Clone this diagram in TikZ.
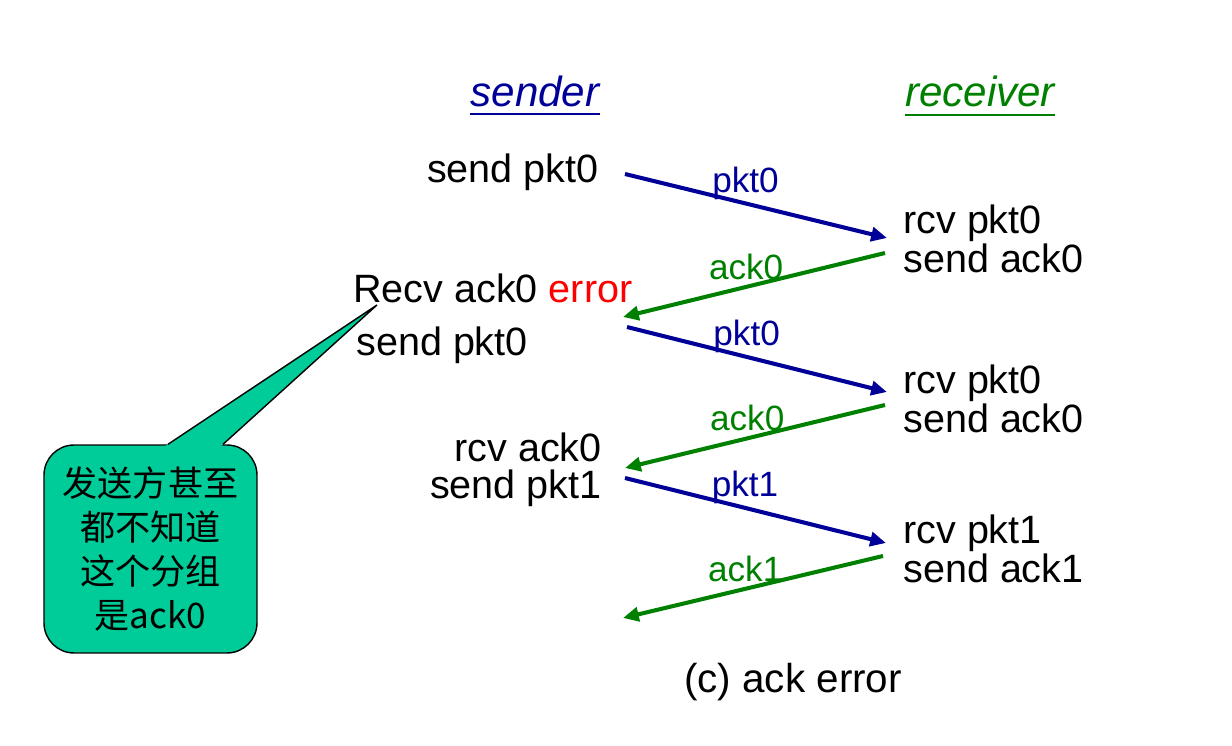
\documentclass[tikz,border=0pt]{standalone}
\usepackage{fontspec}
\setmainfont{Liberation Sans}
\newfontfamily\cjk{Noto Sans CJK SC}
\usetikzlibrary{arrows.meta, calc}
\definecolor{pktblue}{RGB}{0,0,153}
\definecolor{ackgreen}{RGB}{0,128,0}
\definecolor{notefill}{RGB}{0,204,153}

\begin{document}
\begin{tikzpicture}[
    x=0.02cm, y=-0.02cm,
    every node/.style={inner sep=0pt, font=\fontsize{22.5}{20.5}\selectfont},
    head/.style={font=\fontsize{24}{28}\selectfont\itshape},
    lbl/.style={font=\fontsize{20}{24}\selectfont},
    pkt/.style={-{Triangle[length=9pt, width=8pt]}, line width=2.3pt, pktblue},
    ack/.style={-{Triangle[length=9pt, width=8pt]}, line width=2.3pt, ackgreen},
    note/.style={draw, line width=0.8pt, fill=notefill, rounded corners=0.6cm,
        minimum width=4.26cm, minimum height=4.16cm, align=center,
        font=\cjk\fontsize{20}{25}\selectfont}
]
\useasboundingbox (0,0) rectangle (1232,746);

% column heads
\node[head, pktblue, anchor=base] (snd) at (535,107) {sender};
\node[head, ackgreen, anchor=base] (rcv) at (980,107) {receiver};
\draw[pktblue, line width=1.2pt] ($(snd.base west)+(0,7)$) -- ($(snd.base east)+(0,7)$);
\draw[ackgreen, line width=1.2pt] ($(rcv.base west)+(0,8)$) -- ($(rcv.base east)+(0,8)$);

% sender side
\node[anchor=base east] (tx1) at (599,183) {send pkt0};
\node[anchor=base west] (recv) at (353,303) {Recv ack0 \textcolor{red}{error}};
\node[anchor=base west] (tx2) at (356,356) {send pkt0};
\node[anchor=north east, align=right] (tx3) at (602,433) {rcv ack0\\send pkt1};

% receiver side
\node[anchor=north west, align=left] (rx1) at (903,205) {rcv pkt0\\send ack0};
\node[anchor=north west, align=left] (rx2) at (903,365) {rcv pkt0\\send ack0};
\node[anchor=north west, align=left] (rx3) at (903,515) {rcv pkt1\\send ack1};

\node[anchor=base, font=\fontsize{23}{27}\selectfont] (cap) at (793,693) {(c) ack error};

% message ends
\coordinate (s1) at (625,174);
\coordinate (r1) at (887,238);
\coordinate (r2) at (885,253);
\coordinate (s2) at (623,317);
\coordinate (s3) at (627,327);
\coordinate (r3) at (887,392);
\coordinate (r4) at (885,405);
\coordinate (s4) at (625,468);
\coordinate (s5) at (625,478);
\coordinate (r5) at (886,543);
\coordinate (r6) at (883,556);
\coordinate (s6) at (623,618);

\draw[pkt] (s1) -- node[lbl, pos=.46, above=1pt] {pkt0} (r1);
\draw[ack] (r2) -- node[lbl, pos=.53, above=3pt] {ack0} (s2);
\draw[pkt] (s3) -- node[lbl, pos=.46, above=1pt] {pkt0} (r3);
\draw[ack] (r4) -- node[lbl, pos=.53, above=3pt] {ack0} (s4);
\draw[pkt] (s5) -- node[lbl, pos=.46, above=1pt] {pkt1} (r5);
\draw[ack] (r6) -- node[lbl, pos=.53, above=3pt] {ack1} (s6);

% callout
\node[note] (note) at (150.5,549) {发送方甚至\\都不知道\\这个分组\\是ack0};
\coordinate (tip) at (377,305);
\fill[notefill] ($(note.north)+(14.5,2)$) -- (tip) -- ($(note.north)+(70.5,2)$) -- cycle;
\draw[line width=0.8pt] ($(note.north)+(17.5,0)$) -- (tip) -- ($(note.north)+(72.5,0)$);
\end{tikzpicture}
\end{document}
